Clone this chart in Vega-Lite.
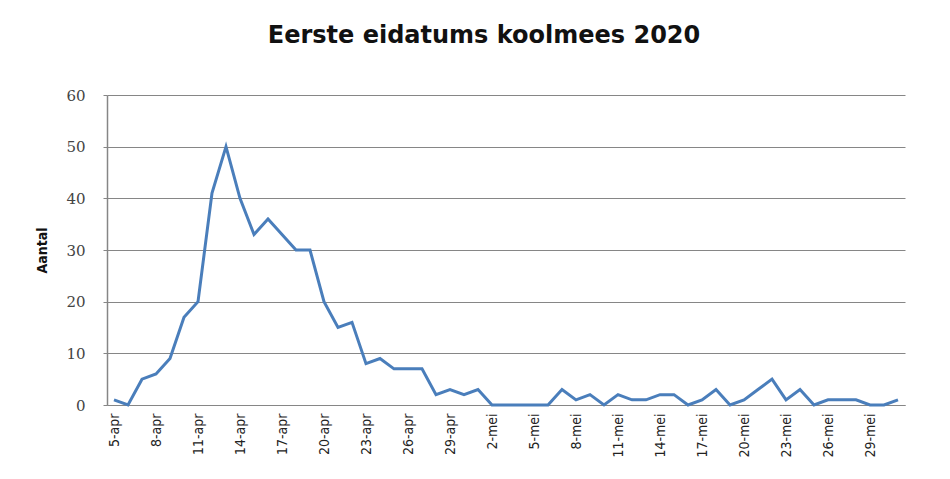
{
  "$schema": "https://vega.github.io/schema/vega-lite/v6.json",
  "autosize": {"type": "none"},
  "width": 798,
  "height": 310,
  "padding": {"left": 107, "top": 95, "right": 45, "bottom": 74},
  "background": "white",
  "title": {
    "text": "Eerste eidatums koolmees 2020",
    "font": "DejaVu Sans",
    "fontSize": 24,
    "fontWeight": "bold",
    "color": "#111111",
    "anchor": "middle",
    "dx": -22,
    "offset": 40
  },
  "data": {
    "values": [
      {"datum": "5-apr", "aantal": 1},
      {"datum": "6-apr", "aantal": 0},
      {"datum": "7-apr", "aantal": 5},
      {"datum": "8-apr", "aantal": 6},
      {"datum": "9-apr", "aantal": 9},
      {"datum": "10-apr", "aantal": 17},
      {"datum": "11-apr", "aantal": 20},
      {"datum": "12-apr", "aantal": 41},
      {"datum": "13-apr", "aantal": 50},
      {"datum": "14-apr", "aantal": 40},
      {"datum": "15-apr", "aantal": 33},
      {"datum": "16-apr", "aantal": 36},
      {"datum": "17-apr", "aantal": 33},
      {"datum": "18-apr", "aantal": 30},
      {"datum": "19-apr", "aantal": 30},
      {"datum": "20-apr", "aantal": 20},
      {"datum": "21-apr", "aantal": 15},
      {"datum": "22-apr", "aantal": 16},
      {"datum": "23-apr", "aantal": 8},
      {"datum": "24-apr", "aantal": 9},
      {"datum": "25-apr", "aantal": 7},
      {"datum": "26-apr", "aantal": 7},
      {"datum": "27-apr", "aantal": 7},
      {"datum": "28-apr", "aantal": 2},
      {"datum": "29-apr", "aantal": 3},
      {"datum": "30-apr", "aantal": 2},
      {"datum": "1-mei", "aantal": 3},
      {"datum": "2-mei", "aantal": 0},
      {"datum": "3-mei", "aantal": 0},
      {"datum": "4-mei", "aantal": 0},
      {"datum": "5-mei", "aantal": 0},
      {"datum": "6-mei", "aantal": 0},
      {"datum": "7-mei", "aantal": 3},
      {"datum": "8-mei", "aantal": 1},
      {"datum": "9-mei", "aantal": 2},
      {"datum": "10-mei", "aantal": 0},
      {"datum": "11-mei", "aantal": 2},
      {"datum": "12-mei", "aantal": 1},
      {"datum": "13-mei", "aantal": 1},
      {"datum": "14-mei", "aantal": 2},
      {"datum": "15-mei", "aantal": 2},
      {"datum": "16-mei", "aantal": 0},
      {"datum": "17-mei", "aantal": 1},
      {"datum": "18-mei", "aantal": 3},
      {"datum": "19-mei", "aantal": 0},
      {"datum": "20-mei", "aantal": 1},
      {"datum": "21-mei", "aantal": 3},
      {"datum": "22-mei", "aantal": 5},
      {"datum": "23-mei", "aantal": 1},
      {"datum": "24-mei", "aantal": 3},
      {"datum": "25-mei", "aantal": 0},
      {"datum": "26-mei", "aantal": 1},
      {"datum": "27-mei", "aantal": 1},
      {"datum": "28-mei", "aantal": 1},
      {"datum": "29-mei", "aantal": 0},
      {"datum": "30-mei", "aantal": 0},
      {"datum": "31-mei", "aantal": 1}
    ]
  },
  "mark": {"type": "line", "color": "#4a7ebb", "strokeWidth": 3, "strokeJoin": "miter"},
  "encoding": {
    "x": {
      "field": "datum",
      "type": "ordinal",
      "sort": null,
      "scale": {"type": "point", "padding": 0.5},
      "axis": {
        "title": null,
        "values": ["5-apr", "8-apr", "11-apr", "14-apr", "17-apr", "20-apr", "23-apr", "26-apr", "29-apr", "2-mei", "5-mei", "8-mei", "11-mei", "14-mei", "17-mei", "20-mei", "23-mei", "26-mei", "29-mei"],
        "labelAngle": -90,
        "labelAlign": "right",
        "labelBaseline": "middle",
        "labelFont": "DejaVu Sans Condensed",
        "labelFontSize": 14,
        "labelColor": "#222222",
        "labelPadding": 8,
        "ticks": false,
        "domainColor": "#868686",
        "domainWidth": 1,
        "grid": false
      }
    },
    "y": {
      "field": "aantal",
      "type": "quantitative",
      "scale": {"domain": [0, 60], "nice": false},
      "axis": {
        "title": "Aantal",
        "titleFont": "DejaVu Sans Condensed",
        "titleFontSize": 14,
        "titleFontWeight": "bold",
        "titleColor": "#111111",
        "titlePadding": 16,
        "values": [0, 10, 20, 30, 40, 50, 60],
        "labelFont": "DejaVu Serif",
        "labelFontSize": 15,
        "labelColor": "#444444",
        "labelPadding": 18,
        "tickSize": 4,
        "tickColor": "#868686",
        "domainColor": "#868686",
        "domainWidth": 1.5,
        "grid": true,
        "gridColor": "#868686",
        "gridWidth": 1
      }
    }
  },
  "config": {
    "view": {"stroke": null}
  }
}
